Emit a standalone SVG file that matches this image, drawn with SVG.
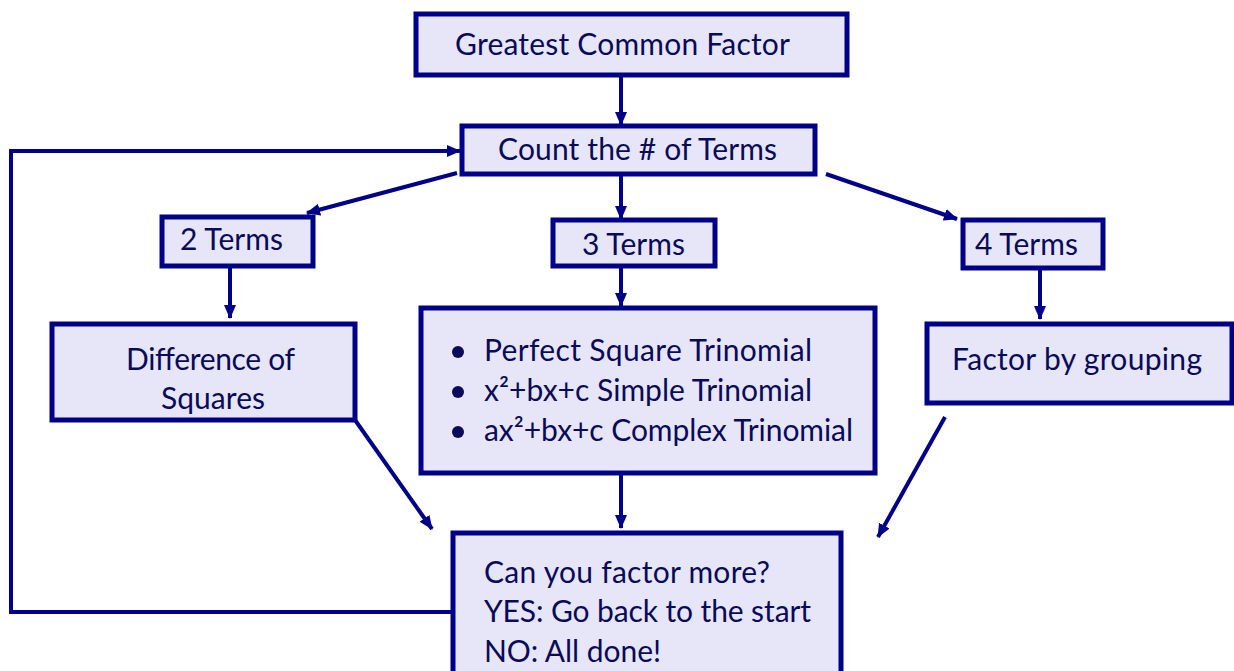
<svg xmlns="http://www.w3.org/2000/svg" width="1234" height="671" viewBox="0 0 1234 671">
<style>
.box{fill:#E6E6F8;stroke:#000088;stroke-width:5}
.t{font-family:Lato,"Open Sans","Liberation Sans",sans-serif;font-size:30px;fill:#0A0A5A}
.c{fill:none;stroke:#000088;stroke-width:4}
.b{fill:#0A0A5A}
</style>
<defs>
<marker id="ah" markerUnits="userSpaceOnUse" markerWidth="14" markerHeight="14" viewBox="0 0 14 14" refX="13" refY="7" orient="auto">
<path d="M0,1 L14,7 L0,13 Z" fill="#000088"/>
</marker>
</defs>
<rect width="1234" height="671" fill="#ffffff"/>
<g id="connectors">
<line class="c" x1="621" y1="76" x2="621" y2="125" marker-end="url(#ah)"/>
<polyline class="c" points="453,612 11,612 11,151 460,151" marker-end="url(#ah)"/>
<line class="c" x1="457" y1="173" x2="307" y2="213" marker-end="url(#ah)"/>
<line class="c" x1="621" y1="174" x2="621" y2="219" marker-end="url(#ah)"/>
<line class="c" x1="826" y1="174" x2="957" y2="219" marker-end="url(#ah)"/>
<line class="c" x1="230" y1="266" x2="230" y2="318" marker-end="url(#ah)"/>
<line class="c" x1="621" y1="266" x2="621" y2="306" marker-end="url(#ah)"/>
<line class="c" x1="1040" y1="268" x2="1040" y2="319" marker-end="url(#ah)"/>
<line class="c" x1="355" y1="420" x2="432" y2="529" marker-end="url(#ah)"/>
<line class="c" x1="621" y1="473" x2="621" y2="528" marker-end="url(#ah)"/>
<line class="c" x1="945" y1="417" x2="878" y2="537" marker-end="url(#ah)"/>
</g>
<g id="gcf">
<rect class="box" x="416" y="14" width="431" height="61"/>
<text class="t" x="455" y="55" textLength="335">Greatest Common Factor</text>
</g>
<g id="count">
<rect class="box" x="462" y="126" width="353" height="48"/>
<text class="t" x="498" y="160" textLength="279">Count the # of Terms</text>
</g>
<g id="two">
<rect class="box" x="162" y="217" width="151" height="49"/>
<text class="t" x="180" y="250" textLength="103">2 Terms</text>
</g>
<g id="three">
<rect class="box" x="553" y="220" width="162" height="46"/>
<text class="t" x="582" y="255" textLength="103">3 Terms</text>
</g>
<g id="four">
<rect class="box" x="963" y="220" width="140" height="48"/>
<text class="t" x="975" y="255" textLength="103">4 Terms</text>
</g>
<g id="diff">
<rect class="box" x="52" y="324" width="303" height="96"/>
<text class="t" x="126" y="370" textLength="169">Difference of</text>
<text class="t" x="161" y="409" textLength="104">Squares</text>
</g>
<g id="trinomial">
<rect class="box" x="421" y="308" width="454" height="165"/>
<circle class="b" cx="458" cy="352" r="6"/>
<circle class="b" cx="458" cy="392" r="6"/>
<circle class="b" cx="458" cy="432" r="6"/>
<text class="t" x="484" y="361" textLength="328">Perfect Square Trinomial</text>
<text class="t" x="484" y="401" textLength="328">x²+bx+c Simple Trinomial</text>
<text class="t" x="484" y="441" textLength="369">ax²+bx+c Complex Trinomial</text>
</g>
<g id="grouping">
<rect class="box" x="927" y="324" width="305" height="79"/>
<text class="t" x="952" y="370" textLength="250">Factor by grouping</text>
</g>
<g id="more">
<rect class="box" x="453" y="533" width="388" height="150"/>
<text class="t" x="484" y="583" textLength="286">Can you factor more?</text>
<text class="t" x="484" y="622" textLength="327">YES: Go back to the start</text>
<text class="t" x="484" y="662" textLength="177">NO: All done!</text>
</g>
</svg>
